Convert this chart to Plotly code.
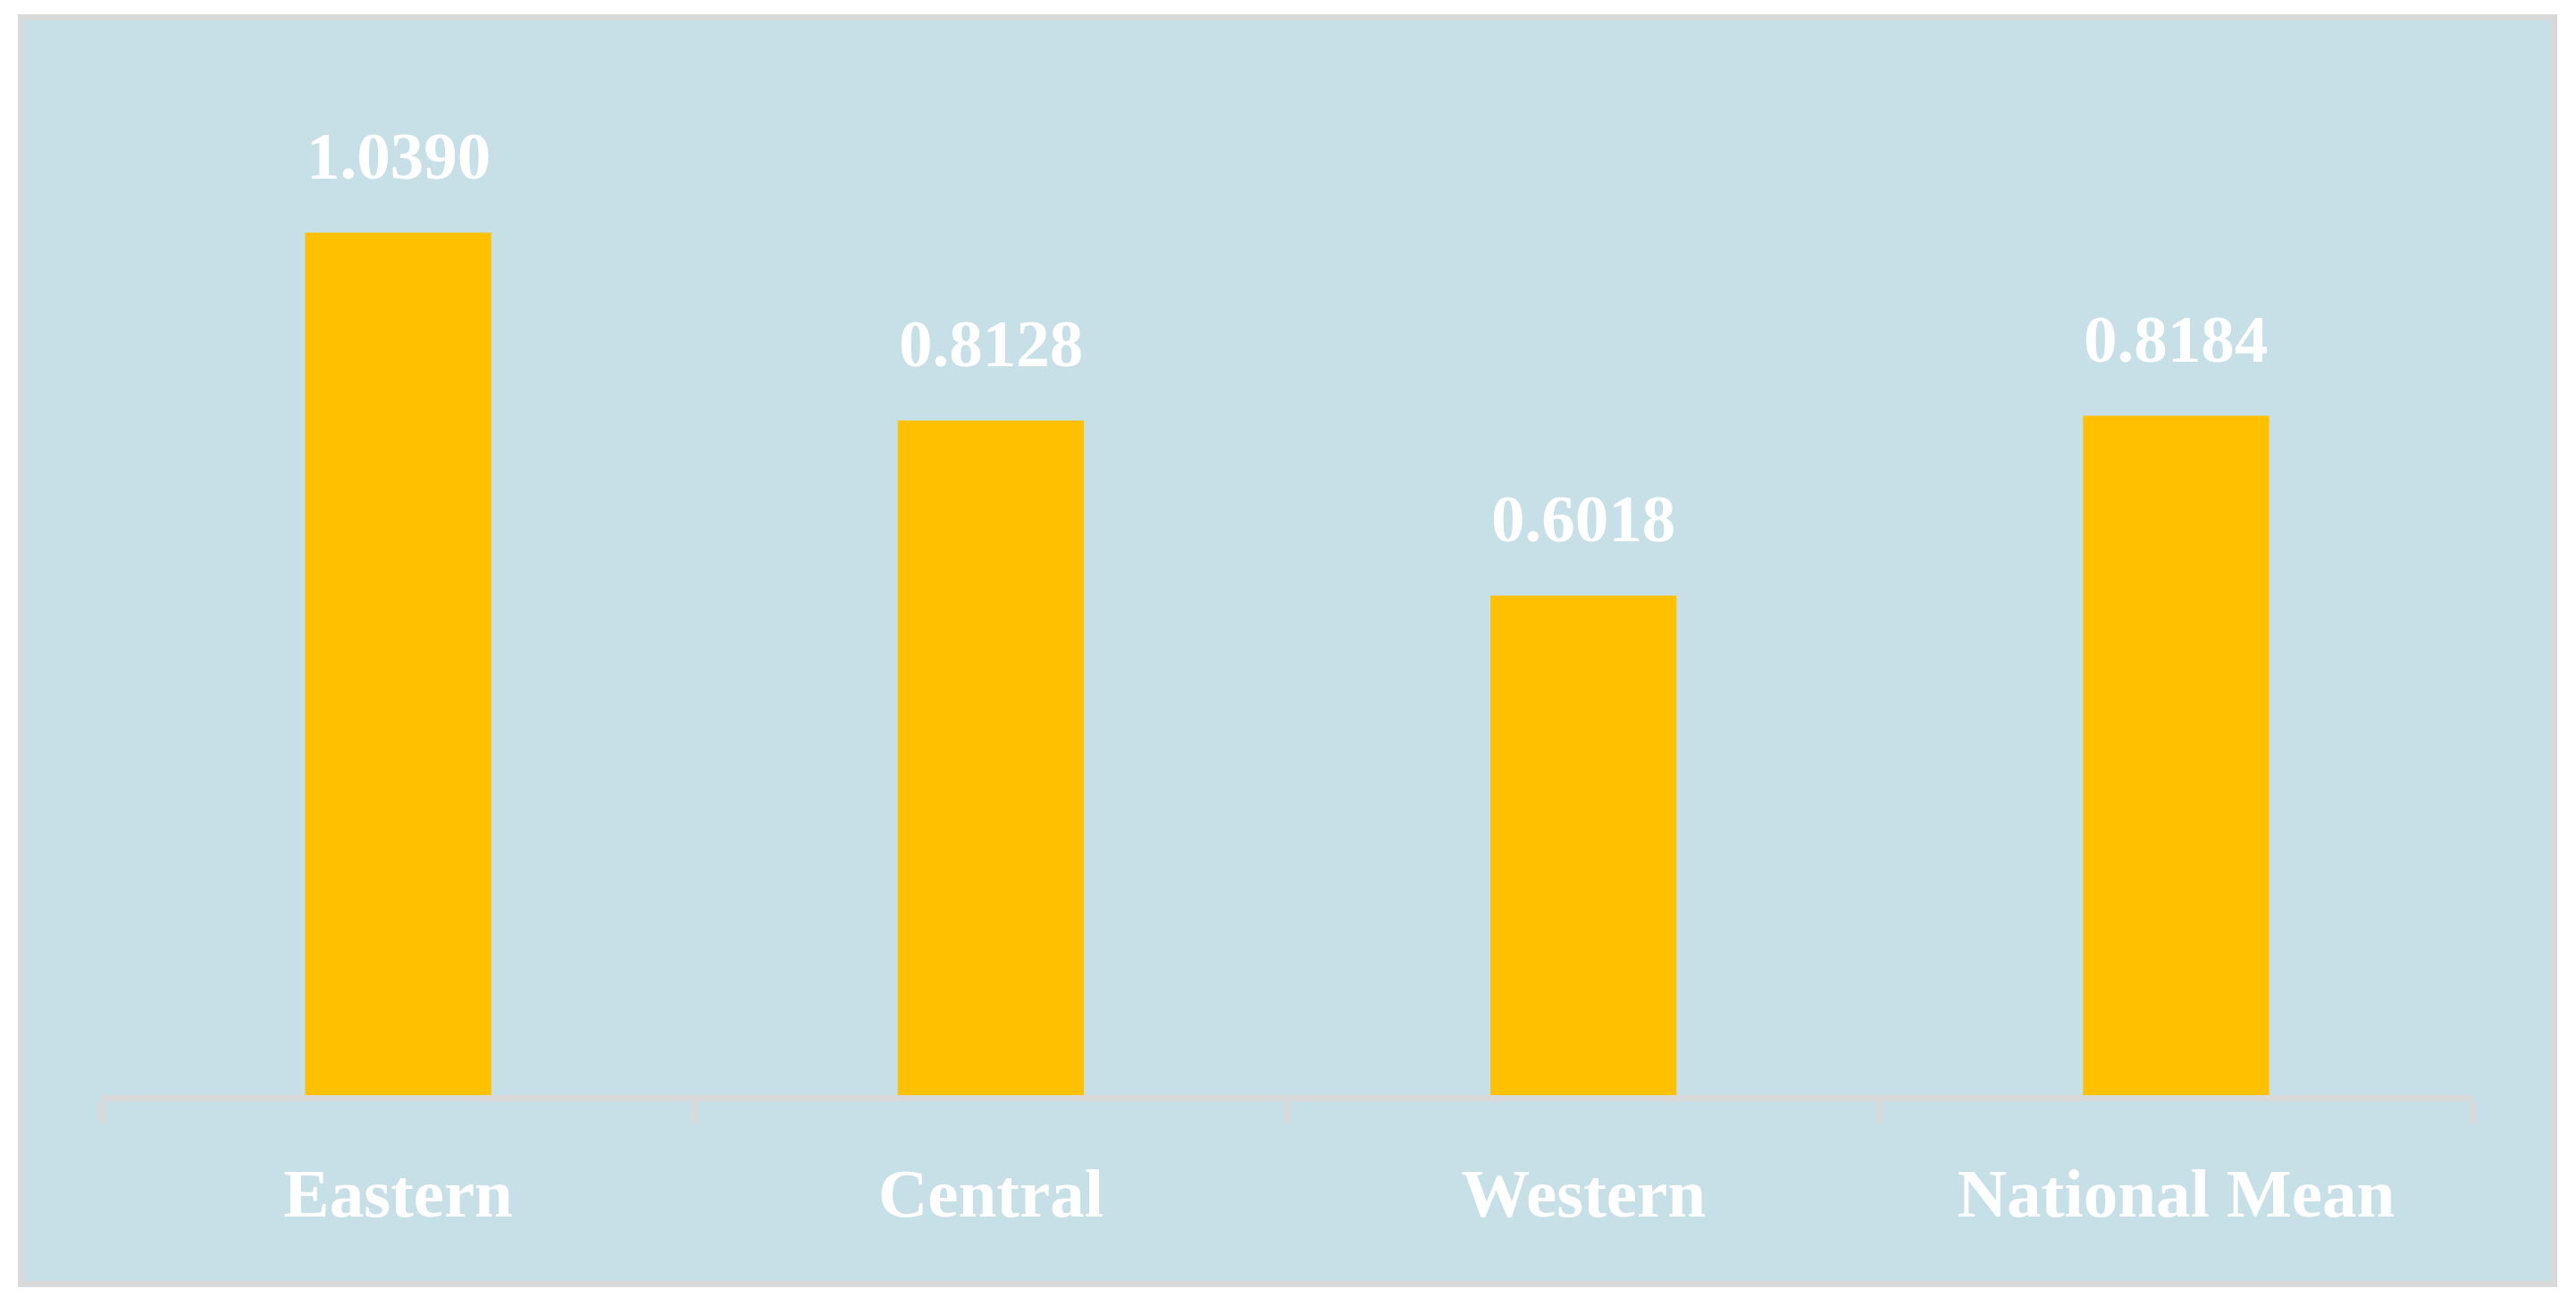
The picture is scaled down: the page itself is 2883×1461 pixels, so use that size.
import plotly.graph_objects as go

categories = ["Eastern", "Central", "Western", "National Mean"]
values = [1.0390, 0.8128, 0.6018, 0.8184]
value_labels = ["1.0390", "0.8128", "0.6018", "0.8184"]

# page has an 8px body margin; figure coordinates = page coordinates - 8
OFF = 8
W, H = 2883 - 2 * OFF, 1461 - 2 * OFF
L = 114 - OFF
T = 111 - OFF
PLOT_RIGHT = 2767 - OFF
PLOT_BOTTOM = 1226 - OFF
R = W - PLOT_RIGHT
B = H - PLOT_BOTTOM
PW = W - L - R
PH = H - T - B
BG = "#C7E0E7"
BORDER = "#D9D9D9"
BAR = "#FFC000"
FONT = "Liberation Serif"

def px_to_paper_x(px):
    return (px - OFF - L) / PW

def px_to_paper_y(py):
    return (PLOT_BOTTOM - (py - OFF)) / PH

fig = go.Figure()
fig.add_trace(go.Bar(
    x=categories, y=values, width=0.314,
    marker=dict(color=BAR, line=dict(width=0)),
    hoverinfo="skip",
))

for c, v, t in zip(categories, values, value_labels):
    fig.add_annotation(
        x=c, y=v, text=f"<b>{t}</b>", showarrow=False,
        yanchor="bottom", xanchor="center", yshift=43,
        font=dict(family=FONT, size=75, color="white"),
    )

fig.add_shape(
    type="rect", xref="paper", yref="paper", layer="below",
    x0=px_to_paper_x(23.5), x1=px_to_paper_x(2858.5),
    y0=px_to_paper_y(1437.5), y1=px_to_paper_y(19.5),
    fillcolor=BG, line=dict(color=BORDER, width=7),
)

fig.update_layout(
    width=W, height=H,
    margin=dict(l=L, r=R, t=T, b=B, pad=0),
    paper_bgcolor="white",
    plot_bgcolor="rgba(0,0,0,0)",
    showlegend=False,
    xaxis=dict(
        type="category", range=[-0.5, 3.5],
        showline=True, linecolor=BORDER, linewidth=7,
        ticks="outside", tickson="boundaries", ticklen=24, tickwidth=7,
        tickcolor=BORDER, showgrid=False, zeroline=False,
        tickfont=dict(family=FONT, size=77, color="white"),
        tickprefix="<b>", ticksuffix="</b>",
        ticklabelstandoff=37,
    ),
    yaxis=dict(range=[0, 1.2], visible=False, showgrid=False, zeroline=False),
)

fig.write_html("out.html")
